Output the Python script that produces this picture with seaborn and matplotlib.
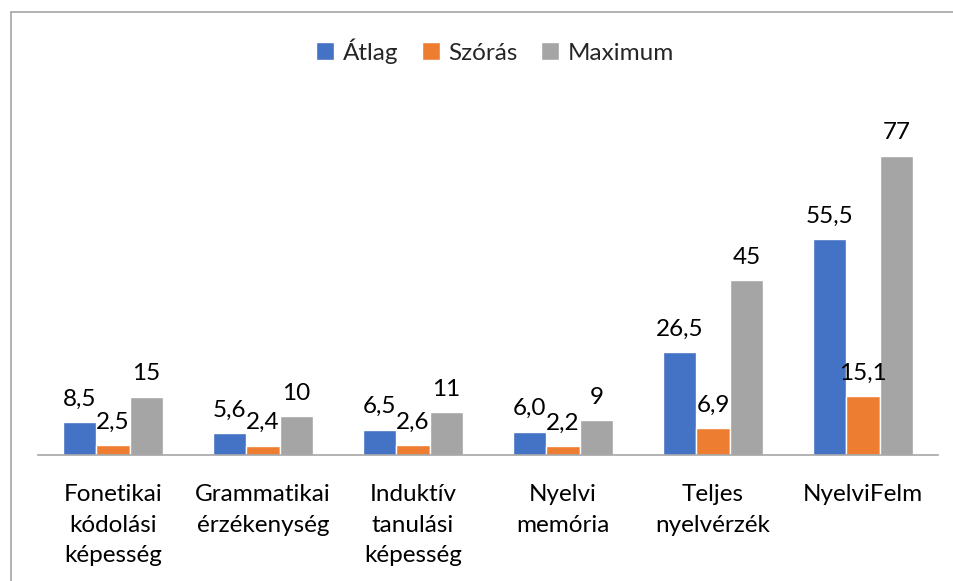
import seaborn as sns
import matplotlib.pyplot as plt
import pandas as pd
from matplotlib.lines import Line2D

# Data
categories = ["Fonetikai\nkódolási\nképesség", "Grammatikai\nérzékenység",
              "Induktív\ntanulási\nképesség", "Nyelvi\nmemória",
              "Teljes\nnyelvérzék", "NyelviFelm"]
atlag = [8.5, 5.6, 6.5, 6.0, 26.5, 55.5]
szoras = [2.5, 2.4, 2.6, 2.2, 6.9, 15.1]
maximum = [15, 10, 11, 9, 45, 77]
series = ["Átlag", "Szórás", "Maximum"]
colors = ["#4472C4", "#ED7D31", "#A5A5A5"]

df = pd.DataFrame({
    "kat": categories * 3,
    "ertek": atlag + szoras + maximum,
    "sor": [s for s in series for _ in categories],
})

sns.set_style("white")
plt.rcParams["font.family"] = ["Lato", "DejaVu Sans"]

fig = plt.figure(figsize=(9.54, 5.81), dpi=100)
ax = fig.add_axes([38 / 954, 126 / 581, 900 / 954, 349.5 / 581])

sns.barplot(data=df, x="kat", y="ertek", hue="sor", palette=colors,
            width=0.667, gap=0, saturation=1, ax=ax, legend=True)

ax.set_ylim(0, 90)
ax.set_xlim(-0.5, len(categories) - 0.5)

# value labels, Hungarian decimal comma
for cont, vals, dec in zip(ax.containers, [atlag, szoras, maximum], [1, 1, 0]):
    labels = [f"{v:.{dec}f}".replace(".", ",") for v in vals]
    ax.bar_label(cont, labels=labels, padding=9, fontsize=17.5, color="#000000")

ax.set_xlabel("")
ax.set_ylabel("")
ax.set_yticks([])
for s in ["left", "right", "top"]:
    ax.spines[s].set_visible(False)
ax.spines["bottom"].set_color("#A6A6A6")
ax.spines["bottom"].set_linewidth(1.2)
ax.tick_params(axis="x", length=0, pad=21, labelsize=17.5, labelcolor="#000000")
for t in ax.get_xticklabels():
    t.set_linespacing(1.55)

ax.legend(loc="center", bbox_to_anchor=(0.5 + 7 / 900, 1 + (105.5 - 51) / 349.5),
          ncol=3, frameon=False, fontsize=17.5, handlelength=0.75, handleheight=0.75,
          handletextpad=0.35, columnspacing=0.95)

# chart frame (top and left edges visible)
fig.add_artist(Line2D([11.5 / 954, 11.5 / 954], [0, 1 - 12 / 581],
                      color="#A6A6A6", lw=1.2))
fig.add_artist(Line2D([11.5 / 954, 1], [1 - 12 / 581, 1 - 12 / 581],
                      color="#A6A6A6", lw=1.2))

fig.savefig("out.png", dpi=100)
